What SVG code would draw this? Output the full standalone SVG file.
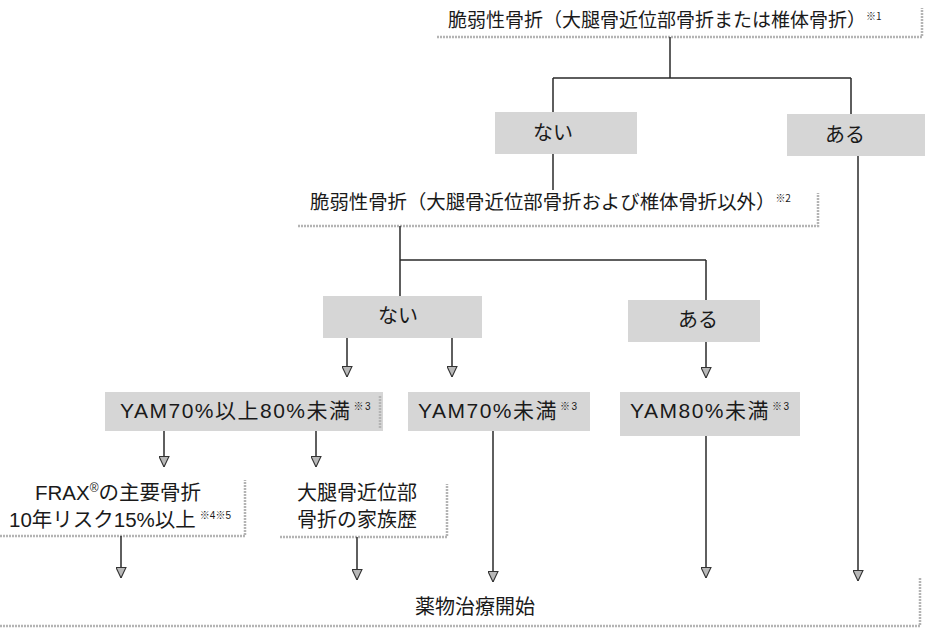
<svg xmlns="http://www.w3.org/2000/svg" width="932" height="636" viewBox="0 0 932 636">
<defs>
<marker id="arr" viewBox="0 0 10 10" refX="10" refY="5" markerWidth="11" markerHeight="11" markerUnits="userSpaceOnUse" orient="auto">
<path d="M0.5,0.5 L10,5 L0.5,9.5 Z" fill="#b8b8b8" stroke="#333" stroke-width="1"/>
</marker>
</defs>
<style>
text{font-family:"Noto Sans CJK JP","Noto Sans",sans-serif;fill:#1a1a1a;font-size:19px}
.c{text-anchor:middle}
.sup{font-size:10px}
.big{font-size:20px}
.lat{font-family:"Liberation Sans","Noto Sans CJK JP",sans-serif;font-size:20.5px}
.yam{letter-spacing:1.5px;font-size:21px}
.g{fill:#d6d6d6}
.edge{fill:none;stroke:#b4b4b4;stroke-width:2.5;stroke-dasharray:2 1}
.ln{fill:none;stroke:#2a2a2a;stroke-width:1.5}
</style>
<rect width="932" height="636" fill="#ffffff"/>

<g id="title">
<polyline class="edge" points="437,37 922,37 922,8"/>
<text x="448" y="27">脆弱性骨折（大腿骨近位部骨折または椎体骨折）<tspan class="sup" dy="-7">※1</tspan></text>
</g>

<g id="nai1">
<rect class="g" x="495" y="112" width="142" height="42"/>
<text class="c big" x="553" y="140">ない</text>
</g>
<g id="aru1">
<rect class="g" x="787" y="114" width="138" height="42"/>
<text class="c big" x="845" y="142">ある</text>
</g>

<g id="q2">
<polyline class="edge" points="298,226 818,226 818,193"/>
<text x="310" y="209" style="font-size:19.4px">脆弱性骨折（大腿骨近位部骨折および椎体骨折以外）<tspan class="sup" dy="-7">※2</tspan></text>
</g>

<g id="nai2">
<rect class="g" x="323" y="296" width="159" height="42"/>
<text class="c big" x="398" y="323">ない</text>
</g>
<g id="aru2">
<rect class="g" x="628" y="300" width="132" height="42"/>
<text class="c big" x="698" y="327">ある</text>
</g>

<g id="yam7080">
<rect class="g" x="105" y="392" width="278" height="39"/>
<polyline class="edge" points="380,396 380,429"/>
<text class="lat yam" x="120" y="418">YAM70%以上80%未満<tspan class="sup" dx="2" dy="-8">※3</tspan></text>
</g>
<g id="yam70">
<rect class="g" x="408" y="392" width="182" height="39"/>
<text class="lat yam" x="418" y="418">YAM70%未満<tspan class="sup" dx="2" dy="-8">※3</tspan></text>
</g>
<g id="yam80">
<rect class="g" x="620" y="392" width="180" height="44"/>
<text class="lat yam" x="630" y="418">YAM80%未満<tspan class="sup" dx="2" dy="-8">※3</tspan></text>
</g>

<g id="frax">
<polyline class="edge" points="0,536 245,536 245,480"/>
<text class="lat c" x="118" y="500">FRAX<tspan style="font-size:12px" dy="-8">®</tspan><tspan dy="8">の主要骨折</tspan></text>
<text class="lat c" x="120" y="527">10年リスク15%以上<tspan class="sup" dx="4" dy="-8">※4※5</tspan></text>
</g>
<g id="family">
<polyline class="edge" points="280,537 447,537 447,484"/>
<text class="c" x="357" y="500" style="font-size:20px">大腿骨近位部</text>
<text class="c" x="357" y="527" style="font-size:20px">骨折の家族歴</text>
</g>

<g id="start">
<polyline class="edge" points="0,626 920,626 920,578"/>
<text class="c big" x="475" y="614">薬物治療開始</text>
</g>

<g id="connectors">
<path class="ln" d="M670,37 V78 M553,78 H851 M553,78 V112 M851,78 V114"/>
<path class="ln" d="M553,154 V190"/>
<path class="ln" d="M400,226 V260 H706 M400,260 V296 M706,260 V300"/>
<path class="ln" d="M347,338 V377" marker-end="url(#arr)"/>
<path class="ln" d="M452,338 V377" marker-end="url(#arr)"/>
<path class="ln" d="M706,342 V378" marker-end="url(#arr)"/>
<path class="ln" d="M164,431 V467" marker-end="url(#arr)"/>
<path class="ln" d="M316,431 V467" marker-end="url(#arr)"/>
<path class="ln" d="M121,536 V578" marker-end="url(#arr)"/>
<path class="ln" d="M357,537 V580" marker-end="url(#arr)"/>
<path class="ln" d="M493,431 V582" marker-end="url(#arr)"/>
<path class="ln" d="M706,436 V578" marker-end="url(#arr)"/>
<path class="ln" d="M858,156 V581" marker-end="url(#arr)"/>
</g>
</svg>
